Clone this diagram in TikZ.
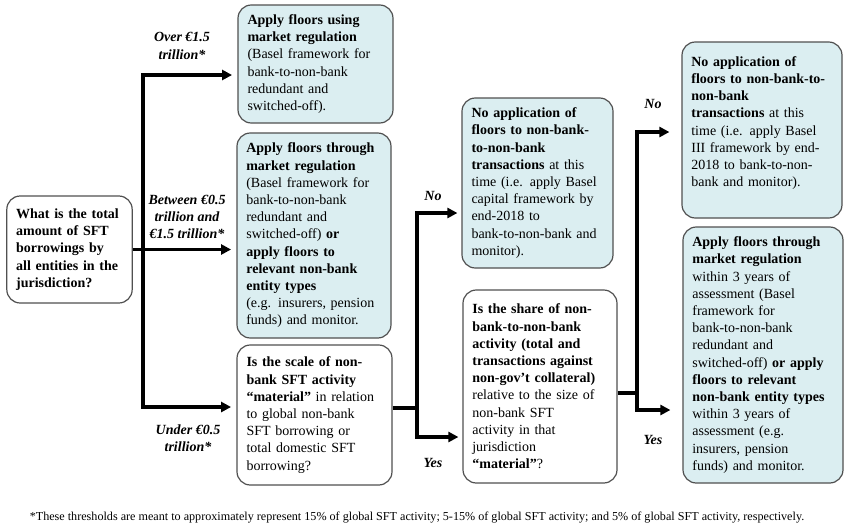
\documentclass[tikz,border=0pt]{standalone}
\usepackage{fontspec}
\setmainfont{Liberation Serif}
\usetikzlibrary{arrows.meta}

\definecolor{boxfill}{RGB}{219,238,241}
\definecolor{boxline}{RGB}{80,80,80}
\newcommand{\boxfont}{\fontsize{10.5}{12.9}\selectfont}

\tikzset{
  answer/.style={draw=boxline, fill=boxfill, line width=0.9pt, rounded corners=10pt,
    align=left, inner xsep=7pt, inner ysep=3pt, font=\boxfont},
  query/.style={answer, fill=white},
  trunk/.style={line width=2.6pt},
  flow/.style={line width=2.6pt, -{Triangle[length=7.5pt,width=7.5pt]}},
  branch/.style={font=\boxfont\bfseries\itshape, align=center, inner sep=0pt}
}

\begin{document}
\begin{tikzpicture}[x=0.75pt,y=-0.75pt]
\useasboundingbox (0,0) rectangle (850,529);

% first question
\node[query, minimum width=93.75pt, minimum height=80.25pt, text width=80pt] (q1) at (69.5,249.5)
  {\textbf{What is the total}\\ \textbf{amount of SFT}\\ \textbf{borrowings by}\\ \textbf{all entities in the}\\ \textbf{jurisdiction?}};

% outcomes of the first question
\node[answer, minimum width=116.25pt, minimum height=88.5pt, text width=102pt] (a1) at (315.5,64)
  {\textbf{Apply floors using}\\ \textbf{market regulation}\\ (Basel framework for\\ bank-to-non-bank\\ redundant and\\ switched-off).};
\node[answer, minimum width=115.5pt, minimum height=153.75pt, text width=101.5pt] (a2) at (314,235.5)
  {\textbf{Apply floors through}\\ \textbf{market regulation}\\ (Basel framework for\\ bank-to-non-bank\\ redundant and\\ switched-off) \textbf{or}\\ \textbf{apply floors to}\\ \textbf{relevant non-bank}\\ \textbf{entity types}\\ (e.g. insurers, pension\\ funds) and monitor.};
\node[query, minimum width=116.25pt, minimum height=105pt, text width=102pt] (q2) at (314.5,415)
  {\textbf{Is the scale of non-}\\ \textbf{bank SFT activity}\\ \textbf{“material”} in relation\\ to global non-bank\\ SFT borrowing or\\ total domestic SFT\\ borrowing?};

% second question
\node[answer, minimum width=113.25pt, minimum height=127.5pt, text width=99pt] (n1) at (537.5,183)
  {\textbf{No application of}\\ \textbf{floors to non-bank-}\\ \textbf{to-non-bank}\\ \textbf{transactions} at this\\ time (i.e. apply Basel\\ capital framework by\\ end-2018 to\\ bank-to-non-bank and\\ monitor).};
\node[query, minimum width=115.5pt, minimum height=144.75pt, text width=101.5pt] (q3) at (540,386.5)
  {\textbf{Is the share of non-}\\ \textbf{bank-to-non-bank}\\ \textbf{activity (total and}\\ \textbf{transactions against}\\ \textbf{non-gov’t collateral)}\\ relative to the size of\\ non-bank SFT\\ activity in that\\ jurisdiction\\ \textbf{“material”}?};

% third question
\node[answer, minimum width=120pt, minimum height=132pt, text width=106pt, text depth=103pt] (n2) at (762,130)
  {\textbf{No application of}\\ \textbf{floors to non-bank-to-}\\ \textbf{non-bank}\\ \textbf{transactions} at this\\ time (i.e. apply Basel\\ III framework by end-\\ 2018 to bank-to-non-\\ bank and monitor).};
\node[answer, minimum width=120pt, minimum height=192pt, text width=106pt] (a3) at (763,355)
  {\textbf{Apply floors through}\\ \textbf{market regulation}\\ within 3 years of\\ assessment (Basel\\ framework for\\ bank-to-non-bank\\ redundant and\\ switched-off) \textbf{or apply}\\ \textbf{floors to relevant}\\ \textbf{non-bank entity types}\\ within 3 years of\\ assessment (e.g.\\ insurers, pension\\ funds) and monitor.};

% branching lines
\coordinate (t1top) at (143,75);
\coordinate (t1bot) at (143,407);
\draw[flow, shorten >=4pt] (t1bot) -- (t1top) -- (t1top -| a1.west);
\draw[flow, shorten >=4pt] (t1top) -- (t1bot) -- (t1bot -| q2.west);
\draw[flow, shorten >=4pt] (q1.east) -- (q1.east -| a2.west);

\coordinate (t2top) at (417,213);
\coordinate (t2bot) at (417,437);
\draw[trunk] ([yshift=5.25pt]q2.east) -- ([yshift=5.25pt]q2.east -| t2top);
\draw[flow, shorten >=3pt] (t2bot) -- (t2top) -- (t2top -| n1.west);
\draw[flow, shorten >=3pt] (t2top) -- (t2bot) -- (t2bot -| q3.west);

\coordinate (t3top) at (637,132);
\coordinate (t3bot) at (637,410);
\draw[trunk] ([yshift=-4.9pt]q3.east) -- ([yshift=-4.9pt]q3.east -| t3top);
\draw[flow, shorten >=9pt] (t3bot) -- (t3top) -- (t3top -| n2.west);
\draw[flow, shorten >=9pt] (t3top) -- (t3bot) -- (t3bot -| a3.west);

% branch labels
\node[branch] (over) at (182,46) {Over €1.5\\ trillion*};
\node[branch] (between) at (187,217) {Between €0.5\\ trillion and\\ €1.5 trillion*};
\node[branch] (under) at (188,438) {Under €0.5\\ trillion*};
\node[branch] (no1) at (433,196) {No};
\node[branch] (yes1) at (433,463) {Yes};
\node[branch] (no2) at (653,104) {No};
\node[branch] (yes2) at (653,440) {Yes};

% footnote
\node[font=\fontsize{9.1}{10}\selectfont, inner sep=0pt] (note) at (417,518)
  {*These thresholds are meant to approximately represent 15\% of global SFT activity; 5-15\% of global SFT activity; and 5\% of global SFT activity, respectively.};

\end{tikzpicture}
\end{document}
